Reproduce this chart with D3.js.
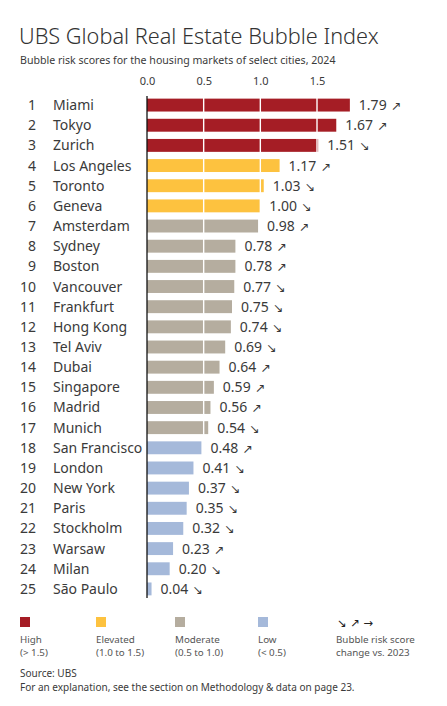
<!DOCTYPE html>
<html>
<head>
<meta charset="utf-8">
<script src="https://cdn.jsdelivr.net/npm/d3@7"></script>
<style>
  body { margin: 0; background: #fff; }
  svg { display: block; font-family: "Noto Sans", "Open Sans", sans-serif; }
</style>
</head>
<body>
<svg id="chart" width="447" height="706"></svg>
<script>
// data
const cities = ["Miami", "Tokyo", "Zurich", "Los Angeles", "Toronto", "Geneva", "Amsterdam",
  "Sydney", "Boston", "Vancouver", "Frankfurt", "Hong Kong", "Tel Aviv", "Dubai", "Singapore",
  "Madrid", "Munich", "San Francisco", "London", "New York", "Paris", "Stockholm", "Warsaw",
  "Milan", "São Paulo"];
const scores = [1.79, 1.67, 1.51, 1.17, 1.03, 1.00, 0.98, 0.78, 0.78, 0.77, 0.75, 0.74, 0.69,
  0.64, 0.59, 0.56, 0.54, 0.48, 0.41, 0.37, 0.35, 0.32, 0.23, 0.20, 0.04];
const changes = ["up", "up", "down", "up", "down", "down", "up", "up", "up", "down", "down", "down",
  "down", "up", "up", "up", "down", "up", "down", "down", "down", "down", "up", "down", "down"];
const tickValues = [0, 0.5, 1.0, 1.5];
const riskNames = ["Low", "Moderate", "Elevated", "High"];
const riskRanges = ["(< 0.5)", "(0.5 to 1.0)", "(1.0 to 1.5)", "(> 1.5)"];
const riskColors = ["#a5b9da", "#b5ad9f", "#fdc23f", "#a51d25"];

const arrows = { up: "\u2197", down: "\u2198", flat: "\u2192" };
const textCol = "#3a3a3a";

const svg = d3.select("#chart");
const x = d3.scaleLinear().domain([0, 1.5]).range([147, 317]);
const y = d3.scaleBand().domain(cities).range([95, 599]).paddingInner(0.36).paddingOuter(0.18);
const color = d3.scaleThreshold().domain([0.5, 1.0, 1.5]).range(riskColors);

// title
svg.append("text").attr("x", 19).attr("y", 44)
  .style("font-size", "21.7px").style("font-weight", 300).attr("fill", "#333")
  .text("UBS Global Real Estate Bubble Index");
svg.append("text").attr("x", 20).attr("y", 64)
  .style("font-size", "10.6px").attr("fill", textCol)
  .text("Bubble risk scores for the housing markets of select cities, 2024");

// axis on top, labels only
const axis = svg.append("g").attr("transform", "translate(0,89)")
  .call(d3.axisTop(x).tickValues(tickValues).tickFormat(d3.format(".1f")).tickSize(0).tickPadding(4));
axis.select(".domain").remove();
axis.selectAll("text").style("font-size", "11px").style("font-family", "Noto Sans").attr("fill", textCol);

const rows = cities.map((c, i) => ({ city: c, score: scores[i], change: changes[i], rank: i + 1 }));

svg.append("g").selectAll("rect").data(rows).join("rect")
  .attr("x", x(0)).attr("y", d => y(d.city))
  .attr("width", d => x(d.score) - x(0))
  .attr("height", y.bandwidth())
  .attr("fill", d => color(d.score));

// white grid lines cut through bars
svg.append("g").selectAll("line").data(tickValues.slice(1)).join("line")
  .attr("x1", d => x(d)).attr("x2", d => x(d))
  .attr("y1", 95).attr("y2", 599)
  .attr("stroke", "#fff").attr("stroke-width", 1.4);

svg.append("line").attr("x1", x(0)).attr("x2", x(0)).attr("y1", 96).attr("y2", 598)
  .attr("stroke", "#111").attr("stroke-width", 1.3);

const lab = svg.append("g").style("font-size", "14px").attr("fill", textCol);
const mid = d => y(d.city) + y.bandwidth() / 2 + 5;

lab.selectAll(".rank").data(rows).join("text").attr("class", "rank")
  .attr("x", 36).attr("y", mid).attr("text-anchor", "end").text(d => d.rank);
lab.selectAll(".city").data(rows).join("text").attr("class", "city")
  .attr("x", 53).attr("y", mid).text(d => d.city);

const val = lab.selectAll(".val").data(rows).join("text").attr("class", "val")
  .attr("x", d => x(d.score) + 9).attr("y", mid);
val.append("tspan").text(d => d.score.toFixed(2));
val.append("tspan").attr("dx", 4).style("font-size", "12.5px")
  .style("font-family", "DejaVu Sans").text(d => arrows[d.change]);

// legend
const legX = [20, 96, 175, 258];
const leg = svg.append("g").style("font-size", "9.8px").attr("fill", "#555");
const order = [3, 2, 1, 0];
order.forEach((k, i) => {
  leg.append("rect").attr("x", legX[i]).attr("y", 617).attr("width", 10).attr("height", 10)
    .attr("fill", riskColors[k]);
  leg.append("text").attr("x", legX[i]).attr("y", 642.5).text(riskNames[k]);
  leg.append("text").attr("x", legX[i]).attr("y", 656).text(riskRanges[k]);
});
leg.append("text").attr("x", 337).attr("y", 627).style("font-family", "DejaVu Sans")
  .style("font-size", "11.5px").attr("fill", "#222")
  .text(arrows.down + " " + arrows.up + " " + arrows.flat);
leg.append("text").attr("x", 336).attr("y", 642.5).text("Bubble risk score");
leg.append("text").attr("x", 336).attr("y", 656).text("change vs. 2023");

const src = svg.append("g").style("font-size", "10px").attr("fill", textCol);
src.append("text").attr("x", 20).attr("y", 677).text("Source: UBS");
src.append("text").attr("x", 20).attr("y", 691)
  .text("For an explanation, see the section on Methodology & data on page 23.");
</script>
</body>
</html>
